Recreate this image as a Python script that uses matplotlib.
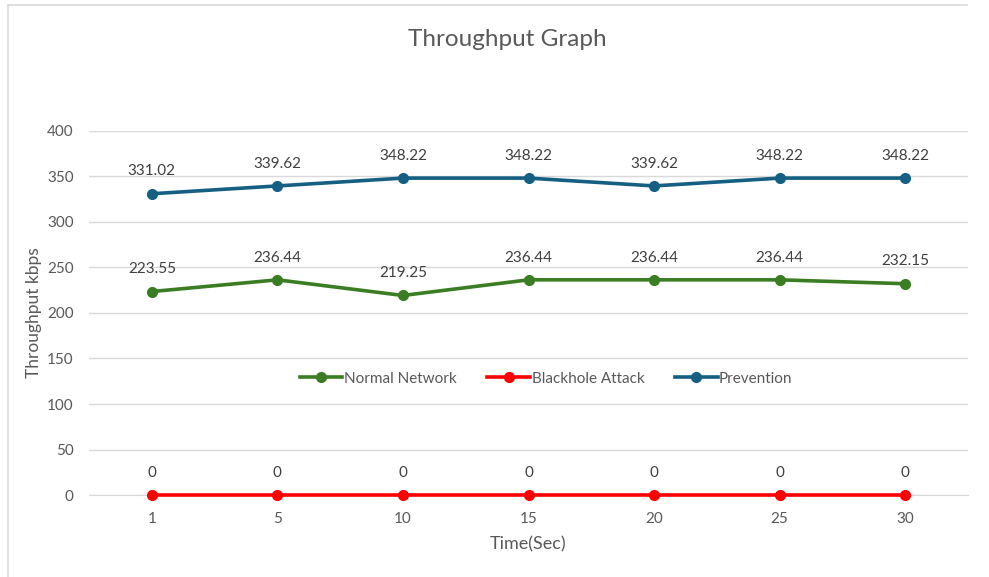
import matplotlib.pyplot as plt
from matplotlib.lines import Line2D

plt.rcParams['font.family'] = ['Lato', 'DejaVu Sans']

time_labels = ['1', '5', '10', '15', '20', '25', '30']
normal = [223.55, 236.44, 219.25, 236.44, 236.44, 236.44, 232.15]
blackhole = [0, 0, 0, 0, 0, 0, 0]
prevention = [331.02, 339.62, 348.22, 348.22, 339.62, 348.22, 348.22]

series = [
    ('Normal Network', normal, '#3B7D23'),
    ('Blackhole Attack', blackhole, '#FF0000'),
    ('Prevention', prevention, '#156082'),
]

text_color = '#595959'
grid_color = '#D9D9D9'

fig = plt.figure(figsize=(9.89, 5.77), dpi=100)
ax = fig.add_axes([0.0900, 0.1421, 0.8888, 0.6309])

x = list(range(len(time_labels)))
handles = []
for name, vals, color in series:
    ax.plot(x, vals, color=color, linewidth=2.6, marker='o', markersize=7,
            clip_on=False, zorder=3)
    for xi, v in zip(x, vals):
        ax.annotate(f'{v:g}', (xi, v), xytext=(0, 11), textcoords='offset points',
                    ha='center', va='bottom', fontsize=11, color='#404040')
    handles.append(Line2D([0], [0], color=color, linewidth=2.6, marker='o',
                          markersize=7))

ax.set_xlim(-0.5, len(time_labels) - 0.5)
ax.set_ylim(0, 400)
ax.set_yticks(range(0, 401, 50))
ax.set_xticks(x)
ax.set_xticklabels(time_labels)
ax.tick_params(axis='both', length=0, labelsize=11, labelcolor=text_color)
ax.tick_params(axis='x', pad=12)
ax.tick_params(axis='y', pad=11)
ax.grid(axis='y', color=grid_color, linewidth=1)
ax.set_axisbelow(True)
for side in ['top', 'right', 'left']:
    ax.spines[side].set_visible(False)
ax.spines['bottom'].set_color(grid_color)

ax.set_xlabel('Time(Sec)', fontsize=13, color=text_color, labelpad=8)
ax.set_ylabel('Throughput kbps', fontsize=12.5, color=text_color, labelpad=4)
fig.text(0.513, 0.932, 'Throughput Graph', ha='center', va='center',
         fontsize=17.5, color=text_color)

ax.legend(handles, [s[0] for s in series], loc='center', bbox_to_anchor=(0.52, 0.32),
          ncol=3, frameon=False, fontsize=11, labelcolor=text_color,
          handlelength=2.8, handletextpad=0.1, columnspacing=2.0)

# thin chart border along the left and top edges
fig.add_artist(Line2D([0.008, 0.008], [0, 0.992], color=grid_color, linewidth=1.2))
fig.add_artist(Line2D([0.008, 0.978], [0.992, 0.992], color=grid_color, linewidth=1.2))

fig.savefig('out.png', dpi=100)
